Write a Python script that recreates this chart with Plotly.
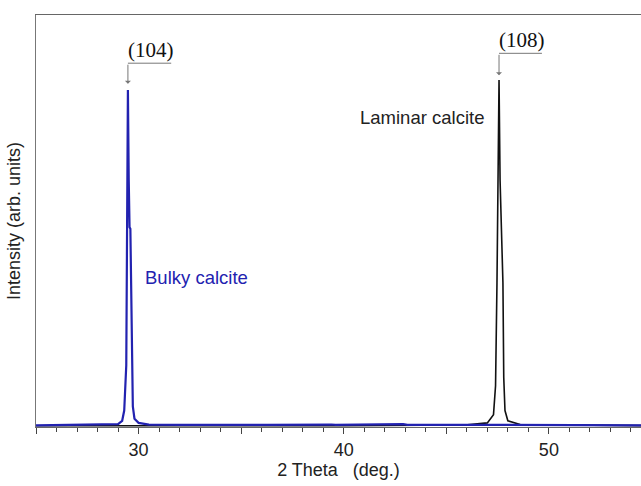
import plotly.graph_objects as go

# Bulky calcite (blue) pattern
bulky_x = [25.0, 26.5, 28.0, 28.8, 29.0, 29.2, 29.3, 29.40, 29.44, 29.48, 29.52, 29.56, 29.60,
           29.63, 29.67, 29.72, 29.8, 30.0, 30.5, 32.0, 35.0, 36.0, 36.3, 39.4, 39.6,
           42.9, 43.1, 47.5, 48.5, 51.0, 55.0]
bulky_y = [0.4, 0.5, 0.5, 0.6, 0.7, 1.5, 4.0, 15.0, 50.0, 81.8, 60.0, 48.5, 48.1,
           38.0, 15.0, 5.0, 2.0, 1.0, 0.6, 0.5, 0.5, 0.6, 0.5, 0.6, 0.5,
           0.7, 0.5, 0.5, 0.5, 0.5, 0.4]

# Laminar calcite (black) pattern
laminar_x = [25.0, 40.0, 45.9, 47.0, 47.3, 47.40, 47.47, 47.52, 47.57, 47.62, 47.68, 47.72,
             47.76, 47.80, 47.86, 48.0, 48.6, 55.0]
laminar_y = [0.3, 0.3, 0.5, 1.0, 3.0, 10.0, 35.0, 70.0, 84.2, 60.0, 48.0, 47.1,
             35.0, 12.0, 4.0, 1.5, 0.6, 0.3]

x_tick_vals = [25, 30, 35, 40, 45, 50, 55]
x_tick_text = ["", "30", "", "40", "", "50", ""]

fig = go.Figure()
fig.add_trace(go.Scatter(x=laminar_x, y=laminar_y, mode="lines",
                         line=dict(color="#111111", width=1.6), showlegend=False))
fig.add_trace(go.Scatter(x=bulky_x, y=bulky_y, mode="lines",
                         line=dict(color="#2222b0", width=2.2), showlegend=False))

# brackets with arrows
gray = "#777777"
fig.add_shape(type="line", x0=29.48, x1=31.59, y0=88.3, y1=88.3, xref="x", yref="y",
              line=dict(color=gray, width=1))
fig.add_shape(type="line", x0=47.57, x1=49.66, y0=90.7, y1=90.7, xref="x", yref="y",
              line=dict(color=gray, width=1))
fig.add_annotation(x=29.48, y=83.3, ax=29.48, ay=88.3, xref="x", yref="y", axref="x", ayref="y",
                   showarrow=True, arrowhead=1, arrowsize=1, arrowwidth=1, arrowcolor=gray, text="")
fig.add_annotation(x=47.57, y=85.4, ax=47.57, ay=90.7, xref="x", yref="y", axref="x", ayref="y",
                   showarrow=True, arrowhead=1, arrowsize=1, arrowwidth=1, arrowcolor=gray, text="")

fig.add_annotation(x=30.62, y=91.5, text="(104)", showarrow=False,
                   font=dict(family="Liberation Serif", size=21, color="#111"))
fig.add_annotation(x=48.69, y=93.9, text="(108)", showarrow=False,
                   font=dict(family="Liberation Serif", size=21, color="#111"))
fig.add_annotation(x=43.8, y=75.2, text="Laminar calcite", showarrow=False,
                   font=dict(family="Liberation Sans", size=18.5, color="#222"))
fig.add_annotation(x=32.84, y=36.4, text="Bulky calcite", showarrow=False,
                   font=dict(family="Liberation Sans", size=18.5, color="#2222b0"))

fig.update_layout(
    width=641, height=486,
    margin=dict(l=36, r=0, t=15, b=59, autoexpand=False),
    plot_bgcolor="white", paper_bgcolor="white",
    font=dict(family="Liberation Sans", size=18, color="#222"),
    xaxis=dict(range=[25, 54.49], tickmode="array", tickvals=x_tick_vals, ticktext=x_tick_text,
               ticks="outside", ticklen=6, tickcolor="#444", tickwidth=1,
               minor=dict(dtick=1, ticks="outside", ticklen=4, tickcolor="#444"),
               showline=True, linecolor="#666", linewidth=1, mirror=True,
               showgrid=False, zeroline=False, automargin=False,
               title=dict(text="2 Theta   (deg.)", standoff=4, font=dict(size=18))),
    yaxis=dict(range=[0, 100], showticklabels=False, ticks="", showgrid=False, zeroline=False,
               showline=True, linecolor="#777", linewidth=1, automargin=False,
               title=dict(text="Intensity (arb. units)", standoff=9, font=dict(size=18))),
)

fig.write_html("out.html", config={"displayModeBar": False},
               post_script="document.body.style.margin='0';document.body.style.overflow='hidden';")
